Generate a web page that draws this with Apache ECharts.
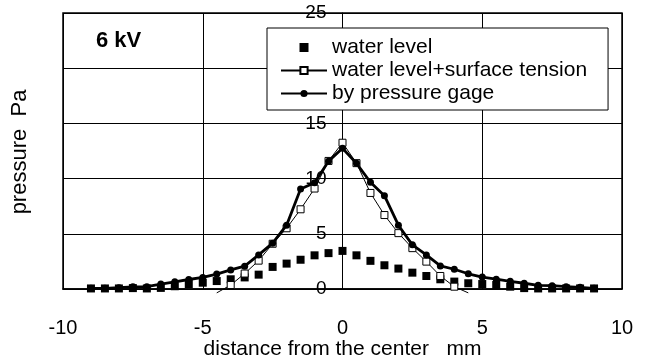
<!DOCTYPE html>
<html>
<head>
<meta charset="utf-8">
<script src="https://cdn.jsdelivr.net/npm/echarts@6/dist/echarts.min.js"></script>
<style>
html,body{margin:0;padding:0;background:#fff;}
#chart{width:645px;height:360px;}
</style>
</head>
<body>
<div id="chart"></div>
<script>
// Data
var xPos = [-9, -8.5, -8, -7.5, -7, -6.5, -6, -5.5, -5, -4.5, -4, -3.5, -3, -2.5, -2, -1.5, -1, -0.5, 0,
            0.5, 1, 1.5, 2, 2.5, 3, 3.5, 4, 4.5, 5, 5.5, 6, 6.5, 7, 7.5, 8, 8.5, 9];
var waterLevel = [0.05, 0.05, 0.05, 0.08, 0.05, 0.1, 0.25, 0.45, 0.57, 0.72, 0.88, 1.05, 1.3, 2.0, 2.3, 2.65, 3.05, 3.25, 3.45,
                  3.05, 2.55, 2.15, 1.85, 1.48, 1.18, 0.88, 0.67, 0.52, 0.45, 0.36, 0.21, 0.08, 0.05, 0.05, 0.05, 0.05, 0.05];
var tensionX = [-4.5, -4, -3.5, -3, -2.5, -2, -1.5, -1, -0.5, 0, 0.5, 1, 1.5, 2, 2.5, 3, 3.5, 4, 4.5];
var waterTension = [-0.35, 0.36, 1.4, 2.57, 4.1, 5.5, 7.22, 9.1, 11.6, 13.25, 11.4, 8.7, 6.7, 5.06, 3.7, 2.48, 1.18, 0.21, -0.35];
var pressureGage = [0.06, 0.06, 0.12, 0.2, 0.21, 0.45, 0.65, 0.86, 1.05, 1.35, 1.73, 2.07, 3.09, 4.15, 5.78, 9.06, 9.63, 11.58, 12.75,
                    11.38, 9.67, 8.45, 5.78, 4.0, 3.09, 2.09, 1.79, 1.38, 1.08, 0.89, 0.7, 0.52, 0.33, 0.3, 0.21, 0.15, 0.06];
var seriesNames = ['water level', 'water level+surface tension', 'by pressure gage'];
var xTicks = [-10, -5, 0, 5, 10];
var yTicks = [0, 5, 10, 15, 20, 25];
var xTitle = 'distance from the center   mm';
var yTitle = 'pressure  Pa';
var chartLabel = '6 kV';

var FONT = 'Liberation Sans, Arial, sans-serif';

function pairs(xs, ys) {
  var out = [];
  for (var i = 0; i < xs.length; i++) out.push([xs[i], ys[i]]);
  return out;
}
// surface tension: points below zero are only line ends (no marker)
var tensionData = [];
for (var i = 0; i < tensionX.length; i++) {
  if (waterTension[i] < 0) tensionData.push({ value: [tensionX[i], waterTension[i]], symbol: 'none' });
  else tensionData.push([tensionX[i], waterTension[i]]);
}

var GRID_LEFT = 63, GRID_RIGHT = 23;
var plotW = 645 - GRID_LEFT - GRID_RIGHT;
// shift the y axis so that it crosses the x axis at x = 0
var yAxisOffset = -plotW * (0 - xTicks[0]) / (xTicks[xTicks.length - 1] - xTicks[0]);

var chart = echarts.init(document.getElementById('chart'), null, { renderer: 'canvas' });
chart.setOption({
  animation: false,
  backgroundColor: '#fff',
  textStyle: { fontFamily: FONT, color: '#000' },
  grid: {
    left: GRID_LEFT, right: GRID_RIGHT, top: 13, bottom: 71,
    outerBoundsMode: 'none',
    containLabel: false,
    show: true, borderColor: '#000', borderWidth: 1.5, backgroundColor: 'transparent'
  },
  xAxis: {
    type: 'value',
    min: xTicks[0], max: xTicks[xTicks.length - 1], interval: 5,
    name: xTitle,
    nameLocation: 'middle',
    nameGap: 50,
    nameMoveOverlap: false,
    nameTextStyle: { fontFamily: FONT, fontSize: 21, color: '#000' },
    axisLine: { show: true, onZero: false, lineStyle: { color: '#000', width: 1.5 } },
    axisTick: { show: false },
    axisLabel: { margin: 29, fontFamily: FONT, fontSize: 20, color: '#000' },
    splitLine: { show: true, lineStyle: { color: '#000', width: 1 } }
  },
  yAxis: {
    type: 'value',
    position: 'left',
    offset: yAxisOffset,
    min: yTicks[0], max: yTicks[yTicks.length - 1], interval: 5,
    axisLine: { show: true, onZero: false, lineStyle: { color: '#000', width: 1 } },
    axisTick: { show: false },
    axisLabel: { margin: 16, fontFamily: FONT, fontSize: 19, color: '#000', padding: [10, 0, 0, 0] },
    splitLine: { show: true, lineStyle: { color: '#000', width: 1 } }
  },
  legend: {
    orient: 'vertical',
    left: 267, top: 28,
    padding: [9, 21, 6, 13],
    itemGap: 2,
    itemWidth: 46,
    itemHeight: 9,
    selectedMode: false,
    backgroundColor: '#fff',
    borderColor: '#000',
    borderWidth: 1,
    textStyle: { fontFamily: FONT, fontSize: 21, color: '#000' },
    data: [
      { name: seriesNames[0], icon: 'path://M0,0H10V10H0Z' },
      { name: seriesNames[1] },
      { name: seriesNames[2] }
    ]
  },
  graphic: [
    {
      type: 'text', x: 96, y: 41, z: 10,
      style: { text: chartLabel, font: 'bold 22px ' + FONT, fill: '#000', textVerticalAlign: 'middle' }
    },
    {
      type: 'text', x: 20, y: 152, rotation: Math.PI / 2, z: 10,
      style: { text: yTitle, font: '22px ' + FONT, fill: '#000', textAlign: 'center', textVerticalAlign: 'middle' }
    }
  ],
  series: [
    {
      name: seriesNames[0],
      type: 'scatter',
      symbol: 'rect',
      symbolSize: 8,
      itemStyle: { color: '#000', opacity: 1 },
      data: pairs(xPos, waterLevel),
      z: 2
    },
    {
      name: seriesNames[1],
      type: 'line',
      symbol: 'rect',
      symbolSize: 7,
      showAllSymbol: true,
      clip: false,
      itemStyle: { color: '#fff', borderColor: '#000', borderWidth: 1 },
      lineStyle: { color: '#000', width: 1 },
      data: tensionData,
      z: 3
    },
    {
      name: seriesNames[2],
      type: 'line',
      symbol: 'circle',
      symbolSize: 7,
      showAllSymbol: true,
      itemStyle: { color: '#000' },
      lineStyle: { color: '#000', width: 2.8 },
      data: pairs(xPos, pressureGage),
      z: 4
    }
  ]
});
</script>
</body>
</html>
